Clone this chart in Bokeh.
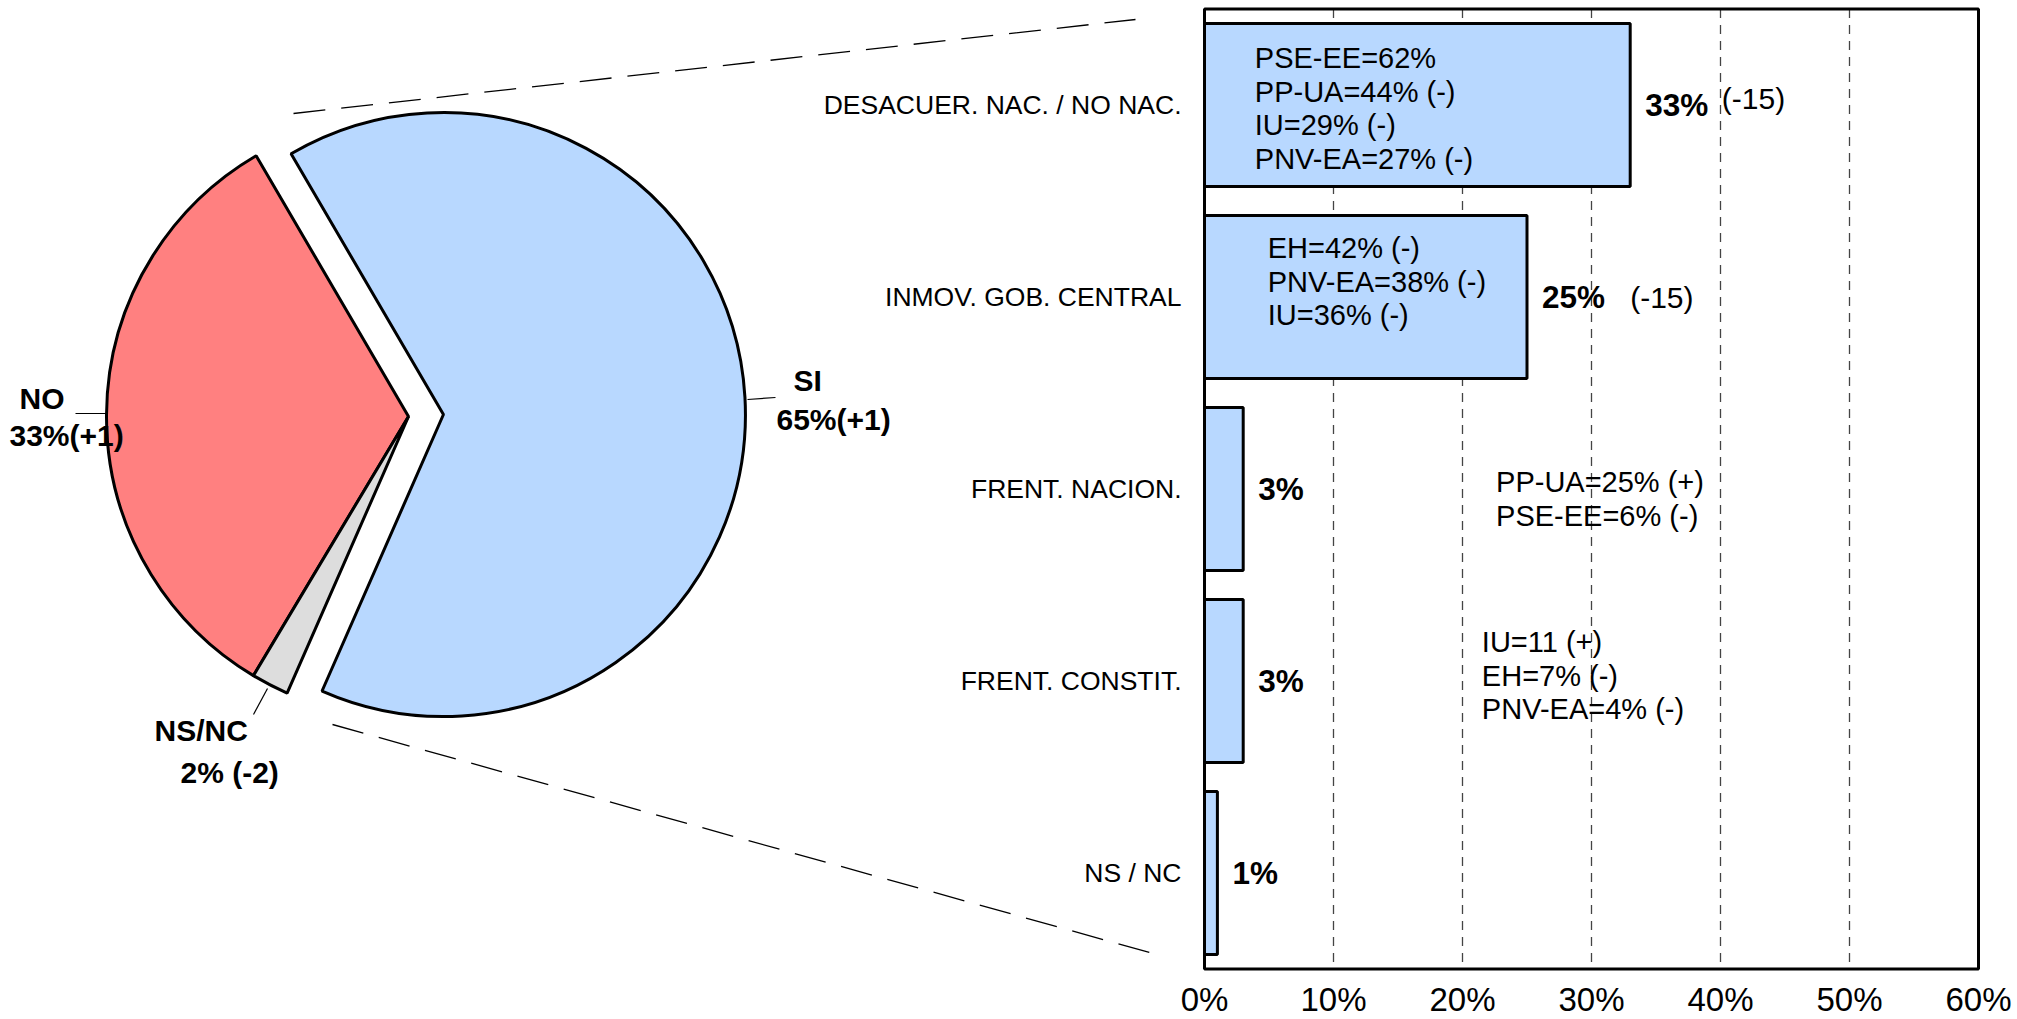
import math
from bokeh.plotting import figure
from bokeh.models import Range1d, LinearAxis, FixedTicker
from bokeh.core.properties import value
from bokeh.embed import file_html
from bokeh.resources import INLINE

# ---------------- data ----------------
pie_labels = ["NO", "NS/NC", "SI"]
pie_values = [33, 2, 65]
pie_value_labels = ["33%(+1)", "2% (-2)", "65%(+1)"]
pie_colors = ["#FF8080", "#DDDDDD", "#B8D8FF"]

categories = ["DESACUER. NAC. / NO NAC.", "INMOV. GOB. CENTRAL",
              "FRENT. NACION.", "FRENT. CONSTIT.", "NS / NC"]
bar_values = [33, 25, 3, 3, 1]
bar_value_labels = ["33%", "25%", "3%", "3%", "1%"]
bar_changes = ["(-15)", "(-15)", "", "", ""]
party_notes = [
    ["PSE-EE=62%", "PP-UA=44% (-)", "IU=29% (-)", "PNV-EA=27% (-)"],
    ["EH=42% (-)", "PNV-EA=38% (-)", "IU=36% (-)"],
    ["PP-UA=25% (+)", "PSE-EE=6% (-)"],
    ["IU=11 (+)", "EH=7% (-)", "PNV-EA=4% (-)"],
    [],
]
x_ticks = [0, 10, 20, 30, 40, 50, 60]
x_tick_labels = ["0%", "10%", "20%", "30%", "40%", "50%", "60%"]
grid_ticks = [10, 20, 30, 40, 50]

# ---------------- layout ----------------
W, H = 2017, 1019
OFF = 0
BX0, BX60 = 1204, 1978       # page px of 0% and 60%
SC = (BX60 - BX0) / 60.0
BAND = 192.0
TOPC = 8.5                   # canvas y of bar frame top
FONT = value("Liberation Sans")

x_range = Range1d(-(BX0 - OFF) / SC, 60 + (OFF + W - BX60) / SC)
y_range = Range1d((H - TOPC) / BAND, -TOPC / BAND)

p = figure(width=W, height=H, x_range=x_range, y_range=y_range,
           output_backend="svg", toolbar_location=None,
           x_axis_location=None, y_axis_location=None,
           min_border=0, min_border_left=0, min_border_right=0,
           min_border_top=0, min_border_bottom=0)
p.outline_line_color = None
p.background_fill_color = "white"
p.border_fill_color = "white"
p.grid.grid_line_color = None
p.extra_x_ranges = {"px": Range1d(OFF, OFF + W)}
p.extra_y_ranges = {"px": Range1d(0, H)}


def PY(page_y):
    return OFF + H - page_y


# ---------------- pie ----------------
start_deg = 120.3
base_c = (408, 416)
explode = {"SI": 35}
starts, ends, cxs, cys = [], [], [], []
cum = math.radians(start_deg)
for lab, v in zip(pie_labels, pie_values):
    a0 = cum
    a1 = cum + v / 100.0 * 2 * math.pi
    cum = a1
    starts.append(a0)
    ends.append(a1)
    mid = (a0 + a1) / 2
    d = explode.get(lab, 0)
    cxs.append(base_c[0] + d * math.cos(mid))
    cys.append(PY(base_c[1]) + d * math.sin(mid))

p.wedge(x=cxs, y=cys, radius=302, radius_units="screen",
        start_angle=starts, end_angle=ends, fill_color=pie_colors,
        line_color="black", line_width=3,
        x_range_name="px", y_range_name="px")

# leader lines
p.segment(x0=[75, 747, 267], y0=[PY(413), PY(399), PY(688)],
          x1=[106, 775, 253], y1=[PY(413), PY(397), PY(714)],
          line_color="black", line_width=1.2,
          x_range_name="px", y_range_name="px")

# pie labels
name_pos = [(19, 398), (154, 730), (793, 380)]
val_pos = [(9, 435), (180, 772), (776, 419)]
p.text(x=[q[0] for q in name_pos], y=[PY(q[1]) for q in name_pos], text=pie_labels,
       text_font=FONT, text_font_size="30px", text_font_style="bold",
       text_align="left", text_baseline="middle", text_color="black",
       x_range_name="px", y_range_name="px")
p.text(x=[q[0] for q in val_pos], y=[PY(q[1]) for q in val_pos], text=pie_value_labels,
       text_font=FONT, text_font_size="30px", text_font_style="bold",
       text_align="left", text_baseline="middle", text_color="black",
       x_range_name="px", y_range_name="px")

# dashed connectors
p.segment(x0=[293, 332], y0=[PY(113), PY(724)], x1=[1135, 1149], y1=[PY(19), PY(952)],
          line_color="black", line_width=1.3, line_dash="32 16",
          x_range_name="px", y_range_name="px")

# ---------------- bars ----------------
ys = [i + 0.5 for i in range(len(categories))]

p.segment(x0=grid_ticks, y0=[0] * len(grid_ticks), x1=grid_ticks, y1=[5] * len(grid_ticks),
          line_color="#444444", line_width=1.3, line_dash="9 7")

p.hbar(y=ys, left=0, right=bar_values, height=0.85,
       fill_color="#B8D8FF", line_color="black", line_width=3)

# frame
p.quad(left=[0], right=[60], top=[0], bottom=[5], fill_color=None,
       line_color="black", line_width=3)

# category labels
p.text(x=[0] * len(categories), y=ys, text=categories, x_offset=-23,
       text_font=FONT, text_font_size="26.5px", text_align="right",
       text_baseline="middle", text_color="black")

# value labels
p.text(x=bar_values, y=ys, text=bar_value_labels, x_offset=15,
       text_font=FONT, text_font_size="31.5px", text_font_style="bold",
       text_align="left", text_baseline="middle", text_color="black")

# changes
chg_x = [40.1, 33.0, 0, 0, 0]
chg_dy = [-7, 0, 0, 0, 0]
cx, cy, ct = [], [], []
for i, t in enumerate(bar_changes):
    if t:
        cx.append(chg_x[i]); cy.append(ys[i] + chg_dy[i] / BAND); ct.append(t)
p.text(x=cx, y=cy, text=ct, text_font=FONT, text_font_size="30px",
       text_align="left", text_baseline="middle", text_color="black")

# party notes
note_x = [3.9, 4.9, 22.6, 21.5, 0]
note_dy0 = [-47, -49, -7, -39, 0]
note_step = 33.7
nx, ny, nt = [], [], []
for i, lines in enumerate(party_notes):
    for j, t in enumerate(lines):
        nx.append(note_x[i])
        ny.append(ys[i] + (note_dy0[i] + j * note_step) / BAND)
        nt.append(t)
p.text(x=nx, y=ny, text=nt, text_font=FONT, text_font_size="29px",
       text_align="left", text_baseline="middle", text_color="black")

# x axis
xaxis = LinearAxis(fixed_location=5, ticker=FixedTicker(ticks=x_ticks),
                   major_label_overrides={t: l for t, l in zip(x_ticks, x_tick_labels)},
                   axis_line_color=None, major_tick_line_color=None,
                   minor_tick_line_color=None, major_tick_out=0, major_tick_in=0,
                   major_label_standoff=12,
                   major_label_text_font="Liberation Sans",
                   major_label_text_font_size="33px",
                   major_label_text_color="black")
p.add_layout(xaxis, "below")

open("out.html", "w").write(file_html(p, INLINE))
